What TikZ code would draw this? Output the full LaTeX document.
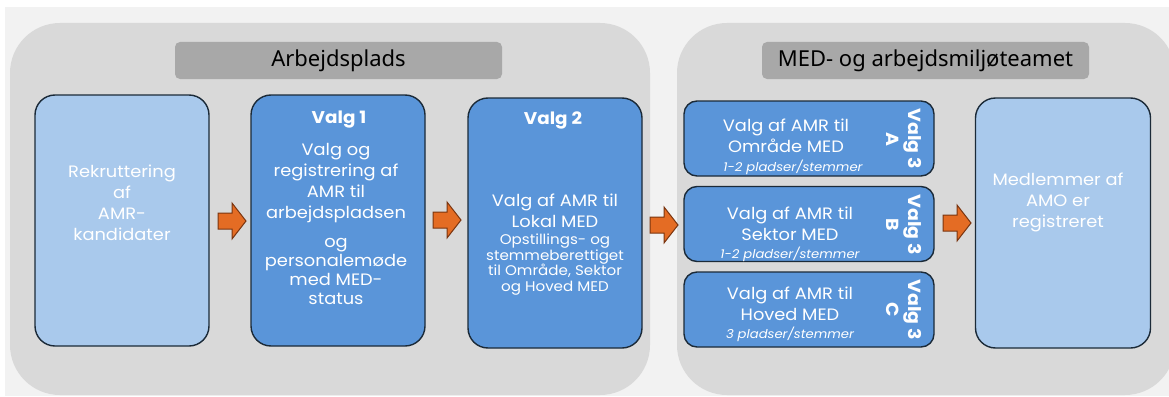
\documentclass[tikz,border=0pt]{standalone}
\usepackage{fontspec}
\setmainfont{Poppins}[FakeStretch=1.08]
\newfontfamily\hdfont{Noto Sans}
\definecolor{bgc}{HTML}{F2F2F2}
\definecolor{panelc}{HTML}{D9D9D9}
\definecolor{hdc}{HTML}{A8A8A8}
\definecolor{lightb}{HTML}{A9C9EC}
\definecolor{darkb}{HTML}{5A95D9}
\definecolor{edgec}{HTML}{1B2A38}
\definecolor{orc}{HTML}{E46C24}
\definecolor{ore}{HTML}{7A3510}
\tikzset{
  panel/.style={fill=panelc, rounded corners=50pt},
  hdr/.style={fill=hdc, rounded corners=5pt, minimum width=327pt, minimum height=37pt, inner sep=0pt, font=\hdfont\fontsize{22}{26}\selectfont, text=black},
  boxl/.style={draw=edgec, line width=1.4pt, fill=lightb, rounded corners=20pt, inner sep=0pt},
  boxd/.style={draw=edgec, line width=1.4pt, fill=darkb, rounded corners=20pt, inner sep=0pt},
  boxs/.style={draw=edgec, line width=1.4pt, fill=darkb, rounded corners=13pt, inner sep=0pt, minimum width=250pt, minimum height=75pt},
  txt/.style={text=white, align=center, inner sep=0pt, font=\fontsize{16.5}{21}\selectfont},
  txtm/.style={text=white, align=center, inner sep=0pt, font=\fontsize{16.5}{19}\selectfont},
  txts/.style={text=white, align=center, inner sep=0pt, font=\fontsize{14}{15.5}\selectfont},
  txti/.style={text=white, align=center, inner sep=0pt, font=\itshape\fontsize{12.2}{15}\selectfont},
  ttl/.style={text=white, inner sep=0pt, font=\bfseries\fontsize{17}{20}\selectfont},
  vlab/.style={text=white, align=center, inner sep=0pt, rotate=-90, font=\bfseries\fontsize{17.5}{22}\selectfont},
  oarrowp/.style={draw=ore, fill=orc, line width=1pt, line join=miter}
}
\newcommand\blockarr[3]{%
  \coordinate (#1) at (#2,#3);
  \filldraw[oarrowp] (#2-14,#3-8) -- (#2,#3-8) -- (#2,#3-18) -- (#2+14,#3) -- (#2,#3+18) -- (#2,#3+8) -- (#2-14,#3+8) -- cycle;}
\begin{document}
\begin{tikzpicture}[x=1pt,y=-1pt]
\useasboundingbox (0,0) rectangle (1169,396);
\fill[white] (0,0) rectangle (1169,396);
\fill[bgc] (5,7) rectangle (1169,396);
\fill[panel] (10,23) rectangle (650,395);
\fill[panel] (677,23) rectangle (1175,395);

\node[hdr] (h1) at (338.5,60.5) {Arbejdsplads};
\node[hdr] (h2) at (925.5,60.5) {MED- og arbejdsmiljøteamet};

\node[boxl, minimum width=174pt, minimum height=251pt] (b1) at (122,220.5) {};
\node[boxd, minimum width=174pt, minimum height=251pt] (b2) at (338,220.5) {};
\node[boxd, minimum width=174pt, minimum height=250pt] (b3) at (555,223) {};
\node[boxs] (b3a) at (809,138.5) {};
\node[boxs] (b3b) at (809,224) {};
\node[boxs] (b3c) at (809,309.5) {};
\node[boxl, minimum width=175pt, minimum height=250pt] (b4) at (1063,223) {};

\node[txt] (t1) at (122,202.5) {Rekruttering\\af\\AMR-\\kandidater};

\node[ttl] (t2h) at (339,120) {Valg 1};
\node[txt] (t2a) at (336,183) {Valg og\\registrering af\\AMR til\\arbejdspladsen};
\node[txtm] (t2b) at (336,271.5) {og\\personalemøde\\med MED-\\status};

\node[ttl] (t3h) at (553,120) {Valg 2};
\node[txt] (t3a) at (555,210.5) {Valg af AMR til\\Lokal MED};
\node[txts] (t3b) at (555,264.5) {Opstillings- og\\stemmeberettiget\\til Område, Sektor\\og Hoved MED};

\node[txt] (ta1) at (786,136) {Valg af AMR til\\Område MED};
\node[txti] (ta2) at (793,167) {1-2 pladser/stemmer};
\node[vlab] (ta3) at (904,139) {Valg 3\\A};

\node[txt] (tb1) at (790,223.5) {Valg af AMR til\\Sektor MED};
\node[txti] (tb2) at (790,254) {1-2 pladser/stemmer};
\node[vlab] (tb3) at (904,225) {Valg 3\\B};

\node[txt] (tc1) at (790,304) {Valg af AMR til\\Hoved MED};
\node[txti] (tc2) at (790,334) {3 pladser/stemmer};
\node[vlab] (tc3) at (904,310) {Valg 3\\C};

\node[txt] (t4) at (1058,202) {Medlemmer af\\AMO er\\registreret};

\blockarr{a1}{232}{221}
\blockarr{a2}{447}{220}
\blockarr{a3}{664}{225}
\blockarr{a4}{957}{223}
\end{tikzpicture}
\end{document}
